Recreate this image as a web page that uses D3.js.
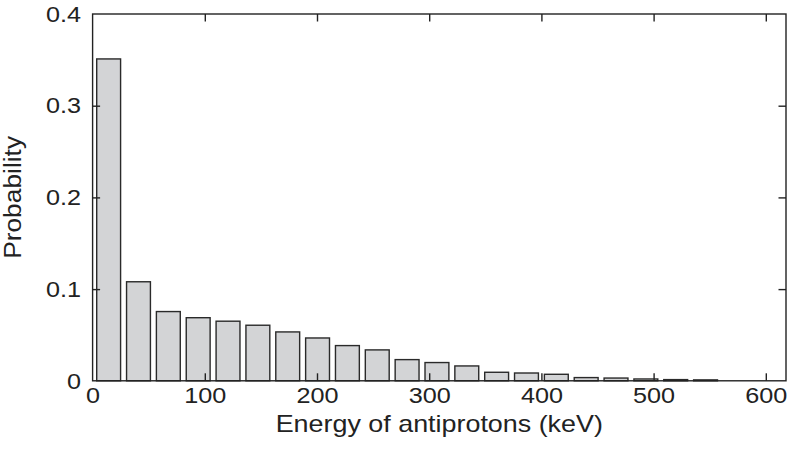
<!DOCTYPE html>
<html>
<head>
<meta charset="utf-8">
<script src="https://cdn.jsdelivr.net/npm/d3@7"></script>
<style>
  html, body { margin: 0; padding: 0; background: #fff; }
  svg { display: block; }
  text { font-family: "Liberation Sans", Arial, Helvetica, sans-serif; fill: #222; }
</style>
</head>
<body>
<svg id="chart" width="788" height="453"></svg>
<script>
// ---- data ----
const binCenters = [14.3, 40.9, 67.5, 94.1, 120.7, 147.3, 173.9, 200.5, 227.1, 253.7, 280.3,
                    306.9, 333.5, 360.1, 386.7, 413.3, 439.9, 466.5, 493.1, 519.7, 546.3];
const probability = [0.351, 0.108, 0.0755, 0.0688, 0.065, 0.0606, 0.0533, 0.0467, 0.0384, 0.0337, 0.0231,
                     0.0199, 0.0162, 0.0093, 0.0085, 0.0071, 0.0035, 0.003, 0.002, 0.0013, 0.001];
const binWidth = 26.6;
const xTicks = [0, 100, 200, 300, 400, 500, 600];
const yTicks = [0, 0.1, 0.2, 0.3, 0.4];
const xLabel = "Energy of antiprotons (keV)";
const yLabel = "Probability";

// ---- layout ----
const pL = 92.6, pR = 786, pT = 14, pB = 380.8;
const stretch = 1.12;
const ink = "#222";

const svg = d3.select("#chart");
const x = d3.scaleLinear().domain([0, 618]).range([pL, pR]);
const y = d3.scaleLinear().domain([0, 0.4]).range([pB, pT]);

const bars = binCenters.map((c, i) => ({ c, v: probability[i] }));
const bw = x(binWidth * 0.8) - x(0);

svg.append("g").selectAll("rect").data(bars).join("rect")
  .attr("x", d => x(d.c) - bw / 2)
  .attr("y", d => y(d.v))
  .attr("width", bw)
  .attr("height", d => y(0) - y(d.v))
  .attr("fill", "#d3d4d6")
  .attr("stroke", "#2a2a2a")
  .attr("stroke-width", 1.4);

const tick = 7.5;
const yFmt = d => d === 0 ? "0" : d3.format(".1f")(d);

const gx = svg.append("g").attr("transform", `translate(0,${pB})`)
  .call(d3.axisBottom(x).tickValues(xTicks).tickSizeInner(-tick).tickSizeOuter(0).tickPadding(5.8));
const gxt = svg.append("g").attr("transform", `translate(0,${pT})`)
  .call(d3.axisTop(x).tickValues(xTicks).tickSizeInner(-tick).tickSizeOuter(0).tickFormat(""));
const gy = svg.append("g").attr("transform", `translate(${pL},0)`)
  .call(d3.axisLeft(y).tickValues(yTicks).tickSizeInner(-tick).tickSizeOuter(0).tickPadding(11.6).tickFormat(yFmt));
const gyr = svg.append("g").attr("transform", `translate(${pR},0)`)
  .call(d3.axisRight(y).tickValues(yTicks).tickSizeInner(-tick).tickSizeOuter(0).tickFormat(""));

[gx, gxt, gy, gyr].forEach(g => {
  g.select(".domain").remove();
  g.selectAll(".tick line").attr("stroke", ink).attr("stroke-width", 1.4);
  g.selectAll(".tick text").attr("fill", ink).attr("font-size", 22.5)
    .attr("font-family", "Liberation Sans, Arial, sans-serif");
});
gx.selectAll(".tick").filter(d => d === 0).select("line").remove();
gxt.selectAll(".tick").filter(d => d === 0).select("line").remove();
gy.selectAll(".tick").filter(d => d === 0 || d === 0.4).select("line").remove();
gyr.selectAll(".tick").filter(d => d === 0 || d === 0.4).select("line").remove();

// frame
svg.append("rect")
  .attr("x", pL).attr("y", pT)
  .attr("width", pR - pL).attr("height", pB - pT)
  .attr("fill", "none").attr("stroke", ink).attr("stroke-width", 1.4);

// axis labels
svg.append("text")
  .attr("x", (pL + pR) / 2).attr("y", 432)
  .attr("text-anchor", "middle").attr("font-size", 24)
  .text(xLabel);

svg.append("text")
  .attr("transform", `translate(20.5,${(pT + pB) / 2}) rotate(-90)`)
  .attr("text-anchor", "middle").attr("font-size", 23.5)
  .text(yLabel);

// widen glyphs to match the reference's wide sans face
svg.selectAll("text").each(function () {
  const t = this.textContent;
  if (!t) return;
  const w = this.getComputedTextLength();
  d3.select(this).attr("textLength", w * stretch).attr("lengthAdjust", "spacingAndGlyphs");
});
</script>
</body>
</html>
